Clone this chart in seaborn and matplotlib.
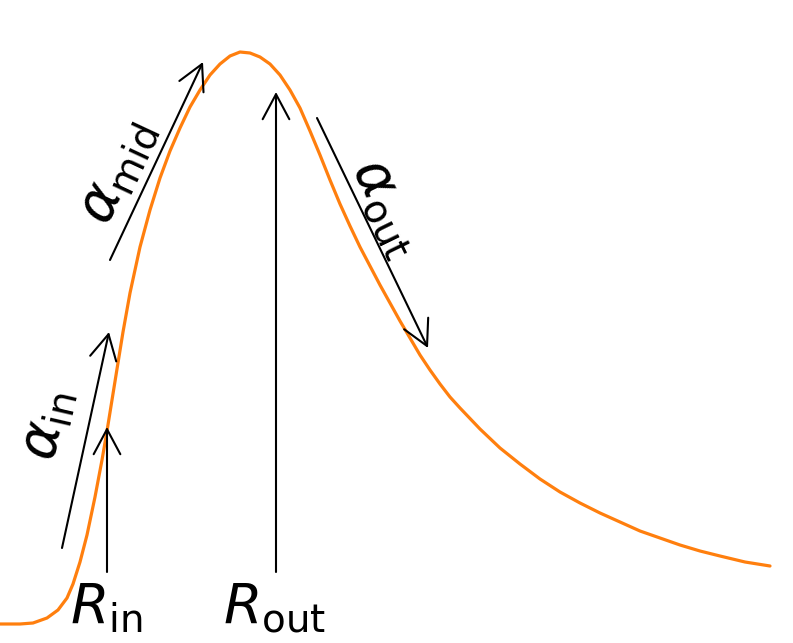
import numpy as np
import pandas as pd
import matplotlib
matplotlib.use("Agg")
import matplotlib.pyplot as plt
import seaborn as sns

# perfil (radio, intensidad en unidades arbitrarias)
radio = [0, 20, 33, 47, 58, 67, 73, 80, 87, 95, 102, 107, 112, 117, 123, 130, 140,
         150, 160, 170, 180, 190, 200, 210, 220, 230, 240,
         250, 260, 270, 280, 290, 300, 310, 320, 330, 340, 350, 360, 370, 380, 390,
         400, 410, 420, 430, 440, 450, 460, 480, 500, 520, 540, 560, 580, 600, 620,
         640, 660, 680, 700, 720, 745, 770]
intensidad = [19, 19, 20, 25, 33, 45, 59, 81, 108, 146, 183, 212, 243, 274, 311, 350,
              396, 433, 465, 492, 515, 536, 553, 568, 579, 587, 591,
              590, 586, 579, 568, 553, 535, 512, 488, 463, 439, 417, 396, 377, 358,
              340, 322, 305, 288, 273, 259, 246, 235, 214, 195, 179, 164, 151, 140,
              130, 121, 112, 105, 98, 92, 87, 81, 77]

# flechas: (cola, punta)
flechas = {
    "alpha_in": ((62, 95), (109, 311)),
    "R_in": ((107, 71), (107, 216)),
    "alpha_mid": ((110, 383), (203, 581)),
    "R_out": ((276, 71), (276, 551)),
    "alpha_out": ((317, 525), (428, 295)),
}

sns.set_style("white")
plt.rcParams["mathtext.fontset"] = "dejavusans"
plt.rcParams["text.color"] = "black"

fig = plt.figure(figsize=(7.93, 6.43), dpi=100)
ax = fig.add_axes([0, 0, 1, 1])

df = pd.DataFrame({"r": radio, "I": intensidad})
sns.lineplot(data=df, x="r", y="I", sort=False, color="#ff7f0e", lw=2.3, ax=ax)

for nombre, (cola, punta) in flechas.items():
    ax.annotate("", xy=punta, xytext=cola,
                arrowprops=dict(arrowstyle="->,head_length=0.45,head_width=0.24",
                                color="black", lw=1.5, shrinkA=0, shrinkB=0,
                                mutation_scale=40))

fs = 40
ax.text(106, 62, r"$R_{\rm in}$", fontsize=fs, ha="center", va="top", color="black")
ax.text(275, 62, r"$R_{\rm out}$", fontsize=fs, ha="center", va="top", color="black")
ax.text(47, 218, r"$\alpha_{\rm in}$", fontsize=fs, ha="center", va="center",
        rotation=77, color="black")
ax.text(117, 471, r"$\alpha_{\rm mid}$", fontsize=fs, ha="center", va="center",
        rotation=65, color="black")
ax.text(388, 436, r"$\alpha_{\rm out}$", fontsize=fs, ha="center", va="center",
        rotation=-64, color="black")

ax.set_xlim(0, 793)
ax.set_ylim(0, 643)
ax.set_axis_off()

fig.savefig("out.png", dpi=100)
